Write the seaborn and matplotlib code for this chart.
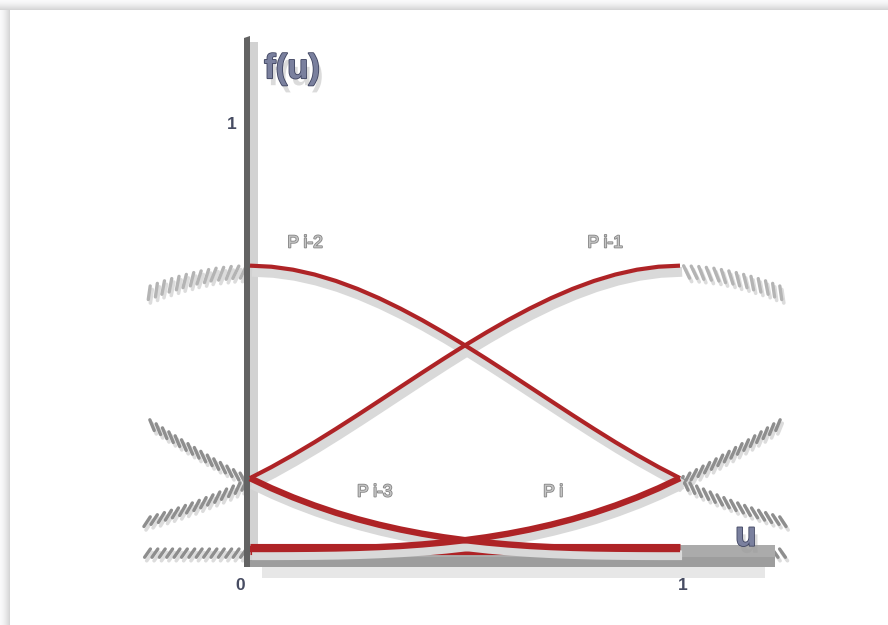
import numpy as np
import pandas as pd
import matplotlib
matplotlib.use("Agg")
import matplotlib.pyplot as plt
import matplotlib.patheffects as pe
from matplotlib.patches import Rectangle, Polygon
import seaborn as sns

# ---- data: uniform cubic B-spline blending functions over one segment ----
u_main = [0.00, 0.05, 0.10, 0.15, 0.20, 0.25, 0.30, 0.35, 0.40, 0.45, 0.50,
          0.55, 0.60, 0.65, 0.70, 0.75, 0.80, 0.85, 0.90, 0.95, 1.00]
p_im3 = [0.1667, 0.1429, 0.1215, 0.1024, 0.0853, 0.0703, 0.0572, 0.0458, 0.0360, 0.0277, 0.0208,
         0.0152, 0.0107, 0.0071, 0.0045, 0.0026, 0.0013, 0.0006, 0.0002, 0.0000, 0.0000]
p_im2 = [0.6667, 0.6642, 0.6572, 0.6459, 0.6307, 0.6120, 0.5902, 0.5656, 0.5387, 0.5097, 0.4792,
         0.4474, 0.4147, 0.3815, 0.3482, 0.3151, 0.2827, 0.2512, 0.2212, 0.1929, 0.1667]
p_im1 = [0.1667, 0.1929, 0.2212, 0.2512, 0.2827, 0.3151, 0.3482, 0.3815, 0.4147, 0.4474, 0.4792,
         0.5097, 0.5387, 0.5656, 0.5902, 0.6120, 0.6307, 0.6459, 0.6572, 0.6642, 0.6667]
p_i = [0.0000, 0.0000, 0.0002, 0.0006, 0.0013, 0.0026, 0.0045, 0.0071, 0.0107, 0.0152, 0.0208,
       0.0277, 0.0360, 0.0458, 0.0572, 0.0703, 0.0853, 0.1024, 0.1215, 0.1429, 0.1667]

# neighbouring segments, shown hatched outside [0, 1]
u_left = [0.00, -0.04, -0.08, -0.12, -0.16, -0.20, -0.24]
u_right = [1.00, 1.04, 1.08, 1.12, 1.16, 1.20, 1.24]
ext_hump = [0.6667, 0.6651, 0.6605, 0.6531, 0.6431, 0.6307, 0.6160]
ext_rise = [0.1667, 0.1874, 0.2096, 0.2330, 0.2574, 0.2827, 0.3086]
ext_fall = [0.1667, 0.1475, 0.1298, 0.1136, 0.0988, 0.0853, 0.0732]
ext_zero = [0.0, 0.0, 0.0, 0.0, 0.0, 0.0, 0.0]

base_u = [0.0, 1.0]
base_v = [0.0, 0.0]

curve_names = ["P i-3", "P i-2", "P i-1", "P i"]
label_u = [0.29, 0.128, 0.826, 0.705]
label_v = [0.134, 0.72, 0.72, 0.134]

sns.set_theme(style="white")
plt.rcParams["font.family"] = ["Liberation Sans", "DejaVu Sans"]

W, H = 888, 625
fig = plt.figure(figsize=(W / 100, H / 100), dpi=100)
fig.patch.set_facecolor("white")
ax = fig.add_axes([0, 0, 1, 1])
X0, XS = 250.0, 430.0   # pixel of u=0, pixels per unit
Y0, YS = 549.0, 425.0   # pixel of f=0, pixels per unit
ax.set_xlim(-X0 / XS, (W - X0) / XS)
ax.set_ylim(-(H - Y0) / YS, Y0 / YS)
ax.axis("off")


def px(x):
    return (x - X0) / XS


def py(y):
    return (Y0 - y) / YS


# ---- panel edge shading (top and left) ----
for i in range(10):
    g = 0.975 - 0.14 * (i / 9.0) ** 1.5
    fig.add_artist(Rectangle((0, 1 - (i + 1) / H), 1, 1 / H, transform=fig.transFigure,
                             color=(g, g, g + 0.005), lw=0, zorder=0))
    fig.add_artist(Rectangle((i / W, 0), 1 / W, 1 - 10 / H, transform=fig.transFigure,
                             color=(g, g, g + 0.005), lw=0, zorder=0))

red = "#ae2326"


def hatch(u, v, angle, length=1.9, color="#8e8e8e"):
    effects = [pe.TickedStroke(offset=(1.5, -2.5), spacing=5.2, angle=angle, length=length,
                               foreground="#dcdcdc", linewidth=2.6),
               pe.TickedStroke(spacing=5.2, angle=angle, length=length,
                               foreground=color, linewidth=2.4)]
    sns.lineplot(x=u, y=v, ax=ax, sort=False, estimator=None, color=color, lw=2,
                 alpha=0.8, path_effects=effects, zorder=2, legend=False)


# hatched continuations on the left
hatch(u_left, ext_hump, 62, color="#b4b4b4")
hatch(u_left, ext_rise, 145, length=1.6)
hatch(u_left, ext_fall, 40, length=1.6)
hatch(u_left, ext_zero, 55, length=1.4)
# and on the right
hatch(u_right, ext_hump, -62, color="#b4b4b4")
hatch(u_right, ext_rise, -145, length=1.6)
hatch(u_right, ext_fall, -40, length=1.6)
hatch(u_right, ext_zero, -55, length=1.4)

# ---- axes drawn as bars ----
ax.add_patch(Rectangle((px(262), py(578)), px(765) - px(262), py(567) - py(578),
                       color="#e7e7e7", lw=0, zorder=3))
ax.add_patch(Rectangle((px(245), py(567)), px(775) - px(245), py(545) - py(567),
                       color="#ababab", lw=0, zorder=3))
ax.add_patch(Rectangle((px(250), py(567)), px(775) - px(250), py(557) - py(567),
                       color="#9d9d9d", lw=0, zorder=3))
ax.add_patch(Rectangle((px(250), py(560)), px(258) - px(250), py(42) - py(560),
                       color="#d2d2d2", lw=0, zorder=4))
ax.add_patch(Polygon([(px(244), py(567)), (px(244), py(38)), (px(250), py(36)),
                      (px(250), py(567))], closed=True, color="#636363", lw=0, zorder=4))

# ---- baseline band and blending curves ----
sns.lineplot(x=base_u, y=base_v, ax=ax, color=red, lw=8, solid_capstyle="butt",
             zorder=5, legend=False)

curves = [(p_im3, 4.6), (p_im2, 3.0), (p_im1, 3.0), (p_i, 4.6)]
# soft grey ribbons under every curve first, then the red strokes on top
for vals, lw in curves:
    sns.lineplot(x=u_main, y=vals, ax=ax, sort=False, estimator=None, color="#dadada",
                 lw=7, zorder=5.5, legend=False, solid_capstyle="butt",
                 path_effects=[pe.Stroke(offset=(1.5, -4.5), linewidth=7, foreground="#d9d9d9")])
for vals, lw in curves:
    sns.lineplot(x=u_main, y=vals, ax=ax, sort=False, estimator=None, color=red, lw=lw,
                 zorder=6, legend=False, solid_capstyle="butt")

# ---- curve labels ----
for name, lu, lv in zip(curve_names, label_u, label_v):
    ax.text(lu, lv, name, ha="center", va="center", fontsize=12.5, color="#c4c4c4",
            zorder=7, path_effects=[pe.Stroke(linewidth=1.2, foreground="#858585"), pe.Normal()])

# ---- tick labels and axis names ----
tick_kw = dict(ha="center", va="center", fontsize=12.5, fontweight="bold", color="#474c62",
               zorder=7)
ax.text(-0.042, 1.0, "1", **tick_kw)
ax.text(-0.022, -0.085, "0", **tick_kw)
ax.text(1.007, -0.085, "1", **tick_kw)

name_fx = [pe.SimplePatchShadow(offset=(2.5, -5), shadow_rgbFace="#9a9a9a", alpha=0.35),
           pe.Stroke(linewidth=1.2, foreground="#3f4460"), pe.Normal()]
ax.text(0.098, 1.13, "f(u)", ha="center", va="center", fontsize=25, fontweight="bold",
        color="#7a809e", zorder=7, path_effects=name_fx)
ax.text(1.153, 0.03, "u", ha="center", va="center", fontsize=25, fontweight="bold",
        color="#7a809e", zorder=7, path_effects=name_fx)

fig.savefig("out.png", dpi=100, facecolor="white")
